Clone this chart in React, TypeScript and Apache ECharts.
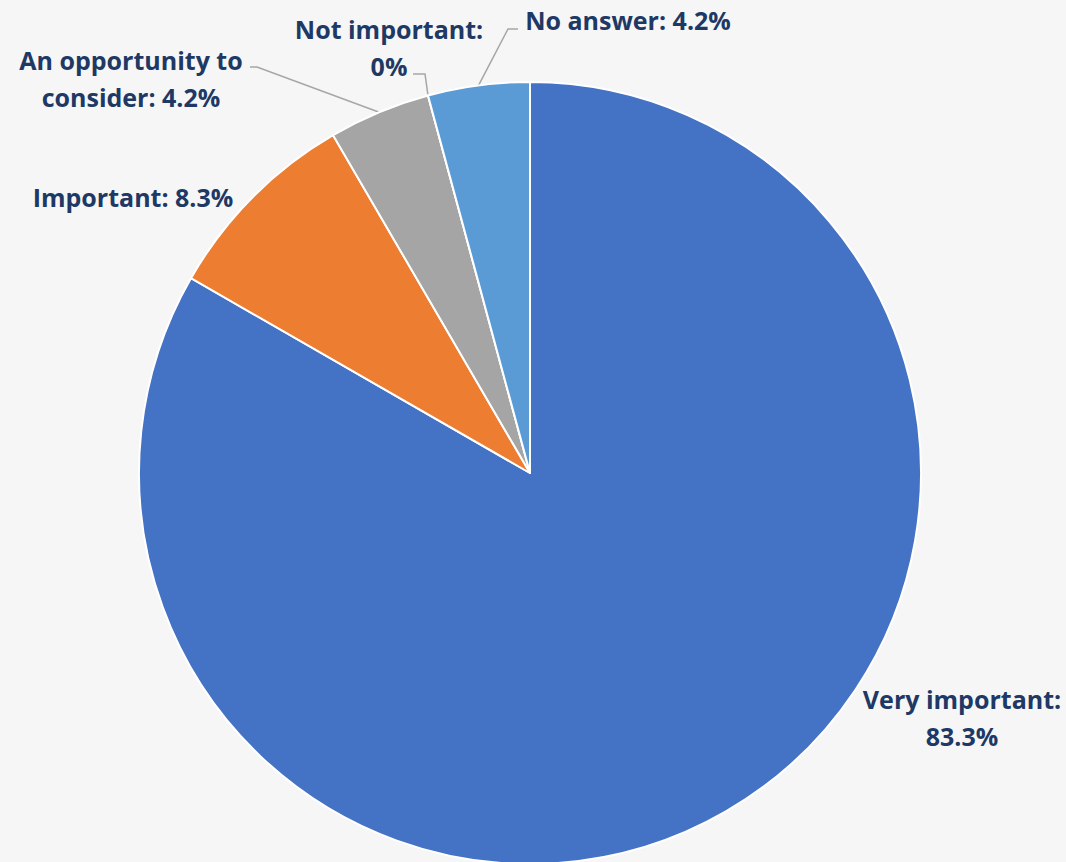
import React, { useEffect, useRef } from "react";
import * as echarts from "echarts";

const categories = ["Very important", "Important", "An opportunity to\nconsider", "Not important", "No answer"];
const values = [83.3, 8.3, 4.2, 0, 4.2];
const separators = [":\n", ": ", ": ", ":\n", ": "];
const colors = ["#4472C4", "#ED7D31", "#A5A5A5", "#FFC000", "#5B9BD5"];
const showLeader = [false, false, true, true, true];

// label anchor (centre of the text block) for each slice
const labelPos: [number, number][] = [
  [962, 717],
  [133, 197],
  [131, 78],
  [389, 47],
  [628, 20],
];
// leader elbows: [elbow, end] near the labels
const leaderEnds: ([number, number][] | null)[] = [
  null,
  null,
  [[257, 67], [250, 67]],
  [[425, 74], [413, 74]],
  [[508, 29], [518, 29]],
];

export default function App() {
  const ref = useRef<HTMLDivElement>(null);
  useEffect(() => {
    document.body.style.margin = "0";
    const chart = echarts.init(ref.current!, undefined, { renderer: "svg" });
    chart.setOption({
      animation: false,
      backgroundColor: "#F6F6F6",
      series: [
        {
          type: "pie",
          center: [530, 473],
          radius: 391,
          startAngle: 90,
          clockwise: true,
          avoidLabelOverlap: false,
          data: categories.map((c, i) => ({
            name: c,
            value: values[i],
            itemStyle: { color: colors[i] },
            labelLine: { show: showLeader[i] },
          })),
          itemStyle: { borderColor: "#FFFFFF", borderWidth: 2 },
          label: {
            show: true,
            position: "outside",
            fontFamily: "'Open Sans', sans-serif",
            fontWeight: "bold",
            fontSize: 25,
            lineHeight: 37,
            color: "#203864",
            align: "center",
            formatter: (p: any) => `${p.name}${separators[p.dataIndex]}${values[p.dataIndex]}%`,
          },
          labelLine: {
            show: true,
            length: 10,
            length2: 10,
            lineStyle: { color: "#A6A6A6", width: 1.5 },
          },
          labelLayout: (params: any) => {
            const i = params.dataIndex;
            const pos = labelPos[i];
            const out: any = { x: pos[0], y: pos[1], align: "center", verticalAlign: "middle" };
            const ends = leaderEnds[i];
            if (ends && params.labelLinePoints) {
              out.labelLinePoints = [params.labelLinePoints[0], ends[0], ends[1]];
            }
            return out;
          },
          emphasis: { disabled: true },
        },
      ],
    });
    return () => chart.dispose();
  }, []);
  return <div ref={ref} style={{ position: "fixed", left: 0, top: 0, width: 1066, height: 862 }} />;
}
